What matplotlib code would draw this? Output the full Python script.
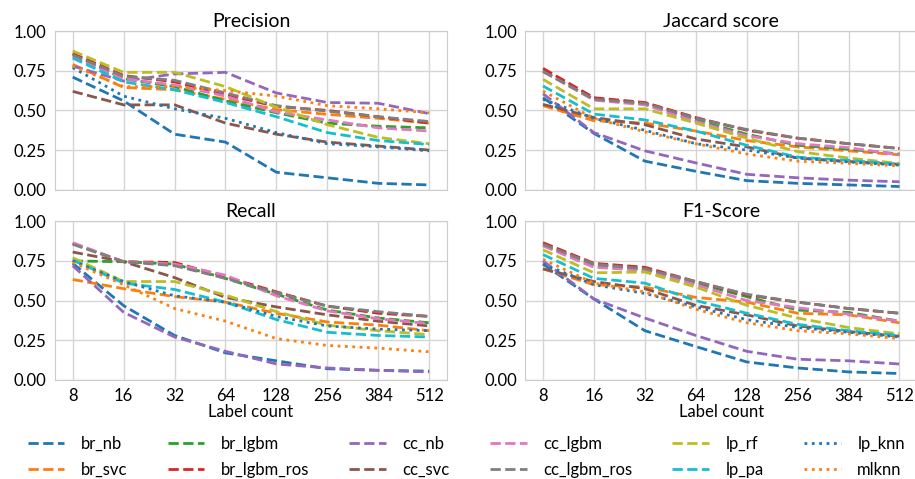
import matplotlib
matplotlib.use('Agg')
import matplotlib.pyplot as plt

plt.rcParams['font.family'] = ['Lato', 'DejaVu Sans']

label_counts = ['8', '16', '32', '64', '128', '256', '384', '512']
models = ['br_nb', 'br_svc', 'br_lgbm', 'br_lgbm_ros', 'cc_nb', 'cc_svc',
          'cc_lgbm', 'cc_lgbm_ros', 'lp_rf', 'lp_pa', 'lp_knn', 'mlknn']

precision = {
    'br_nb':       [0.71, 0.56, 0.35, 0.30, 0.11, 0.075, 0.04, 0.03],
    'br_svc':      [0.79, 0.645, 0.63, 0.57, 0.505, 0.475, 0.45, 0.42],
    'br_lgbm':     [0.855, 0.70, 0.65, 0.56, 0.485, 0.42, 0.40, 0.39],
    'br_lgbm_ros': [0.86, 0.72, 0.68, 0.60, 0.525, 0.50, 0.46, 0.42],
    'cc_nb':       [0.78, 0.685, 0.73, 0.74, 0.61, 0.55, 0.545, 0.48],
    'cc_svc':      [0.62, 0.535, 0.535, 0.42, 0.35, 0.30, 0.275, 0.25],
    'cc_lgbm':     [0.84, 0.70, 0.66, 0.59, 0.49, 0.44, 0.39, 0.37],
    'cc_lgbm_ros': [0.85, 0.715, 0.69, 0.61, 0.53, 0.495, 0.46, 0.43],
    'lp_rf':       [0.875, 0.74, 0.74, 0.65, 0.52, 0.41, 0.33, 0.29],
    'lp_pa':       [0.83, 0.68, 0.63, 0.55, 0.46, 0.36, 0.31, 0.285],
    'lp_knn':      [0.77, 0.59, 0.51, 0.45, 0.36, 0.29, 0.27, 0.245],
    'mlknn':       [0.78, 0.65, 0.65, 0.625, 0.59, 0.53, 0.51, 0.485],
}

jaccard = {
    'br_nb':       [0.58, 0.355, 0.18, 0.116, 0.057, 0.04, 0.03, 0.02],
    'br_svc':      [0.53, 0.435, 0.42, 0.37, 0.31, 0.27, 0.245, 0.22],
    'br_lgbm':     [0.75, 0.57, 0.54, 0.44, 0.35, 0.28, 0.255, 0.225],
    'br_lgbm_ros': [0.765, 0.58, 0.55, 0.455, 0.375, 0.325, 0.29, 0.26],
    'cc_nb':       [0.605, 0.36, 0.245, 0.169, 0.097, 0.075, 0.06, 0.05],
    'cc_svc':      [0.538, 0.455, 0.41, 0.32, 0.27, 0.20, 0.178, 0.16],
    'cc_lgbm':     [0.745, 0.565, 0.535, 0.43, 0.34, 0.29, 0.265, 0.22],
    'cc_lgbm_ros': [0.745, 0.57, 0.545, 0.45, 0.38, 0.325, 0.29, 0.26],
    'lp_rf':       [0.696, 0.51, 0.51, 0.42, 0.325, 0.24, 0.20, 0.165],
    'lp_pa':       [0.654, 0.477, 0.44, 0.37, 0.28, 0.205, 0.185, 0.16],
    'lp_knn':      [0.57, 0.45, 0.375, 0.29, 0.25, 0.20, 0.175, 0.155],
    'mlknn':       [0.622, 0.45, 0.365, 0.29, 0.225, 0.18, 0.166, 0.15],
}

recall = {
    'br_nb':       [0.735, 0.468, 0.28, 0.17, 0.12, 0.07, 0.06, 0.055],
    'br_svc':      [0.633, 0.575, 0.525, 0.49, 0.42, 0.365, 0.345, 0.31],
    'br_lgbm':     [0.75, 0.745, 0.73, 0.64, 0.54, 0.44, 0.39, 0.36],
    'br_lgbm_ros': [0.86, 0.745, 0.74, 0.65, 0.555, 0.465, 0.42, 0.40],
    'cc_nb':       [0.72, 0.426, 0.27, 0.18, 0.10, 0.075, 0.06, 0.05],
    'cc_svc':      [0.806, 0.745, 0.645, 0.52, 0.46, 0.41, 0.37, 0.34],
    'cc_lgbm':     [0.865, 0.745, 0.73, 0.66, 0.53, 0.435, 0.385, 0.355],
    'cc_lgbm_ros': [0.855, 0.745, 0.72, 0.64, 0.55, 0.465, 0.43, 0.40],
    'lp_rf':       [0.77, 0.62, 0.62, 0.535, 0.43, 0.345, 0.31, 0.285],
    'lp_pa':       [0.755, 0.61, 0.57, 0.49, 0.38, 0.30, 0.28, 0.27],
    'lp_knn':      [0.75, 0.62, 0.53, 0.49, 0.40, 0.34, 0.32, 0.31],
    'mlknn':       [0.74, 0.60, 0.45, 0.37, 0.26, 0.217, 0.20, 0.177],
}

f1 = {
    'br_nb':       [0.73, 0.51, 0.31, 0.21, 0.113, 0.075, 0.05, 0.04],
    'br_svc':      [0.70, 0.60, 0.585, 0.52, 0.49, 0.42, 0.41, 0.36],
    'br_lgbm':     [0.85, 0.72, 0.70, 0.61, 0.525, 0.44, 0.425, 0.37],
    'br_lgbm_ros': [0.865, 0.735, 0.71, 0.62, 0.535, 0.49, 0.45, 0.42],
    'cc_nb':       [0.75, 0.51, 0.39, 0.28, 0.18, 0.13, 0.12, 0.10],
    'cc_svc':      [0.70, 0.62, 0.575, 0.47, 0.41, 0.34, 0.305, 0.275],
    'cc_lgbm':     [0.845, 0.71, 0.69, 0.60, 0.50, 0.455, 0.415, 0.37],
    'cc_lgbm_ros': [0.855, 0.73, 0.70, 0.62, 0.54, 0.49, 0.45, 0.42],
    'lp_rf':       [0.82, 0.675, 0.68, 0.585, 0.47, 0.39, 0.33, 0.29],
    'lp_pa':       [0.79, 0.64, 0.61, 0.50, 0.42, 0.35, 0.31, 0.28],
    'lp_knn':      [0.73, 0.60, 0.545, 0.46, 0.38, 0.33, 0.30, 0.27],
    'mlknn':       [0.76, 0.61, 0.555, 0.445, 0.36, 0.31, 0.29, 0.26],
}

colors = ['#1f77b4', '#ff7f0e', '#2ca02c', '#d62728', '#9467bd', '#8c564b',
          '#e377c2', '#7f7f7f', '#bcbd22', '#17becf', '#1f77b4', '#ff7f0e']
styles = ['--'] * 10 + [':', ':']

fig = plt.figure(figsize=(9.15, 4.79), dpi=100)
w, h = 0.4285, 0.331
boxes = [(0.060, 0.604), (0.574, 0.604), (0.060, 0.207), (0.574, 0.207)]
panels = [('Precision', precision), ('Jaccard score', jaccard),
          ('Recall', recall), ('F1-Score', f1)]

for i, ((title, data), (l, b)) in enumerate(zip(panels, boxes)):
    ax = fig.add_axes([l, b, w, h])
    for m, c, s in zip(models, colors, styles):
        ax.plot(label_counts, data[m], color=c, linestyle=s, linewidth=2, label=m)
    ax.set_title(title, fontsize=14, pad=3)
    ax.set_ylim(0, 1)
    ax.set_yticks([0, 0.25, 0.5, 0.75, 1.0])
    ax.set_yticklabels(['0.00', '0.25', '0.50', '0.75', '1.00'])
    ax.grid(True, color='#d5d5d5', linewidth=1)
    ax.set_axisbelow(True)
    for sp in ax.spines.values():
        sp.set_color('#cccccc')
    ax.tick_params(length=0, labelsize=12, pad=6)
    if i < 2:
        ax.tick_params(labelbottom=False)
    else:
        ax.set_xlabel('Label count', fontsize=12, labelpad=0)

handles, labels = ax.get_legend_handles_labels()
fig.legend(handles, labels, loc='upper left', bbox_to_anchor=(0.014, 0.122),
           ncol=6, frameon=False, fontsize=12, handlelength=2.2,
           columnspacing=2.4, labelspacing=0.6, handletextpad=1.0)

fig.savefig('out.png', dpi=100)
